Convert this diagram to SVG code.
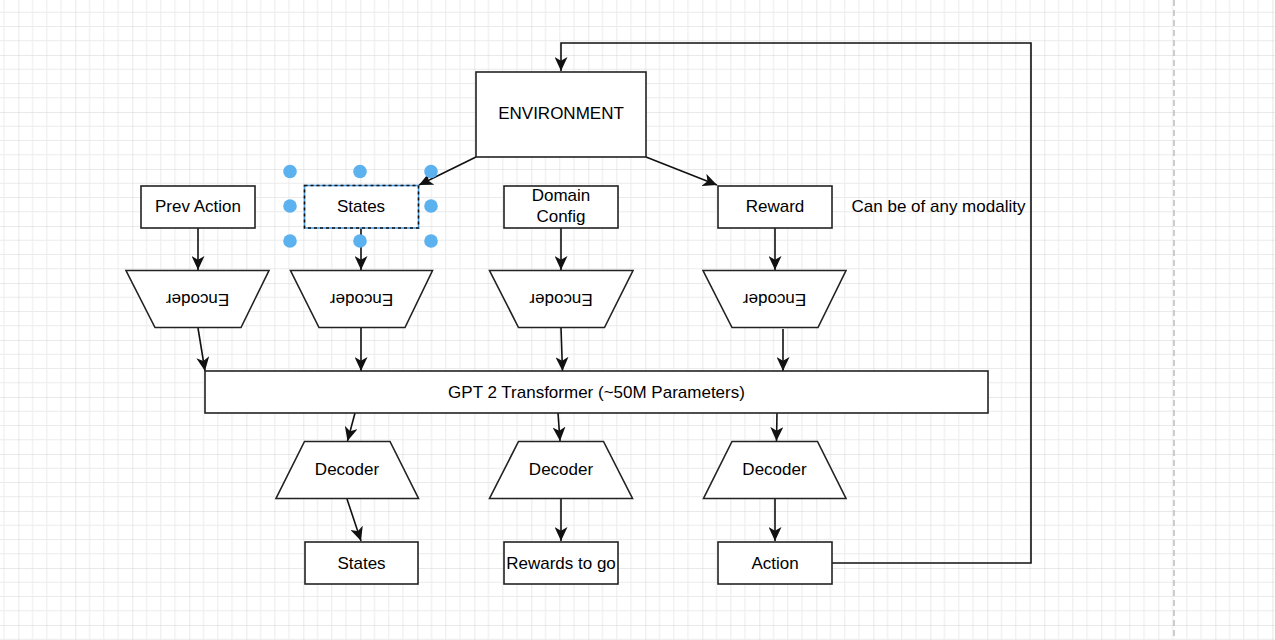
<svg xmlns="http://www.w3.org/2000/svg" width="1275" height="640" viewBox="0 0 1275 640">
<style>
.box{fill:#fff;stroke:#222;stroke-width:1.6}
.t{font-family:"Liberation Sans",Arial,sans-serif;font-size:17px;fill:#000;text-anchor:middle}
.c{fill:none;stroke:#111;stroke-width:1.6}
.h{fill:#5cb1ef}
</style>
<defs>
<pattern id="grid" width="57" height="57" patternUnits="userSpaceOnUse" x="18.3" y="-2">
<path d="M14.25 0V57M28.5 0V57M42.75 0V57M0 14.25H57M0 28.5H57M0 42.75H57" stroke="#ebebeb" stroke-width="1"/>
<path d="M0 0V57M0 0H57" stroke="#d4d4d4" stroke-width="1"/>
</pattern>
<marker id="arr" markerUnits="userSpaceOnUse" markerWidth="15" markerHeight="13" refX="14" refY="6.5" orient="auto">
<path d="M0,0 L14,6.5 L0,13 L3.8,6.5 z" fill="#111"/>
</marker>
</defs>
<rect width="1275" height="640" fill="#fff"/>
<rect width="1275" height="640" fill="url(#grid)"/>
<line x1="1174" y1="0" x2="1174" y2="640" stroke="#bdbdbd" stroke-width="1.5" stroke-dasharray="6 4"/>

<g id="connectors">
<path class="c" d="M832 563 H1031 V43 H561 V71" marker-end="url(#arr)"/>
<path class="c" d="M476 157 L419 185" marker-end="url(#arr)"/>
<path class="c" d="M646 157 L717 185" marker-end="url(#arr)"/>
<path class="c" d="M198 228 V270" marker-end="url(#arr)"/>
<path class="c" d="M361 228 V270" marker-end="url(#arr)"/>
<path class="c" d="M561 228 V270" marker-end="url(#arr)"/>
<path class="c" d="M775 228 V270" marker-end="url(#arr)"/>
<path class="c" d="M198 328 L205 371" marker-end="url(#arr)"/>
<path class="c" d="M361 328 V371" marker-end="url(#arr)"/>
<path class="c" d="M561 328 L562.5 371" marker-end="url(#arr)"/>
<path class="c" d="M783 329 V371" marker-end="url(#arr)"/>
<path class="c" d="M355 413 L347.5 441" marker-end="url(#arr)"/>
<path class="c" d="M558 413 L560 441" marker-end="url(#arr)"/>
<path class="c" d="M777 413 L776.5 441" marker-end="url(#arr)"/>
<path class="c" d="M347 499 L361 541" marker-end="url(#arr)"/>
<path class="c" d="M561 499 V541" marker-end="url(#arr)"/>
<path class="c" d="M775 499 V541" marker-end="url(#arr)"/>
</g>

<g id="environment">
<rect class="box" x="476" y="72" width="170" height="85"/>
<text class="t" x="561" y="118.5">ENVIRONMENT</text>
</g>

<g id="prev-action">
<rect class="box" x="141" y="186" width="114" height="42"/>
<text class="t" x="198" y="212.3">Prev Action</text>
</g>

<g id="states-in">
<rect x="304.5" y="185.5" width="114" height="42.5" fill="#fff" stroke="#4a9fe8" stroke-width="1.6"/>
<rect x="304.5" y="185.5" width="114" height="42.5" fill="none" stroke="#111" stroke-width="1.6" stroke-dasharray="3 3"/>
<text class="t" x="361" y="211.5">States</text>
</g>

<g id="domain-config">
<rect class="box" x="504" y="186" width="114" height="42"/>
<text class="t" x="561" y="200.5">Domain</text>
<text class="t" x="561" y="221.5">Config</text>
</g>

<g id="reward">
<rect class="box" x="718" y="186" width="114" height="42"/>
<text class="t" x="775" y="211.5">Reward</text>
</g>

<g id="modality-note">
<text class="t" x="938.5" y="211.5">Can be of any modality</text>
</g>

<g id="encoder-1">
<path class="box" d="M126 270.5 H269 L241 327.5 H155 Z"/>
<text class="t" transform="rotate(180 197.5 300)" x="197.5" y="306">Encoder</text>
</g>
<g id="encoder-2">
<path class="box" d="M290.5 270.5 H432.5 L405 327.5 H319 Z"/>
<text class="t" transform="rotate(180 361.5 300)" x="361.5" y="306">Encoder</text>
</g>
<g id="encoder-3">
<path class="box" d="M489.5 270.5 H633 L604.5 327.5 H518.5 Z"/>
<text class="t" transform="rotate(180 561 300)" x="561" y="306">Encoder</text>
</g>
<g id="encoder-4">
<path class="box" d="M703 270.5 H846 L818 327.5 H732 Z"/>
<text class="t" transform="rotate(180 774.5 300)" x="774.5" y="306">Encoder</text>
</g>

<g id="gpt2">
<rect class="box" x="205" y="371" width="783" height="42"/>
<text class="t" x="596.5" y="397.5">GPT 2 Transformer (~50M Parameters)</text>
</g>

<g id="decoder-1">
<path class="box" d="M304.5 441.5 H390 L418.5 498.5 H276 Z"/>
<text class="t" x="347" y="475">Decoder</text>
</g>
<g id="decoder-2">
<path class="box" d="M518.5 441.5 H603.5 L632.5 498.5 H489.5 Z"/>
<text class="t" x="561" y="475">Decoder</text>
</g>
<g id="decoder-3">
<path class="box" d="M732 441.5 H817.5 L846 498.5 H703.5 Z"/>
<text class="t" x="774.5" y="475">Decoder</text>
</g>

<g id="states-out">
<rect class="box" x="305" y="542" width="113" height="42"/>
<text class="t" x="361.5" y="568.5">States</text>
</g>
<g id="rewards-to-go">
<rect class="box" x="504" y="542" width="114" height="42"/>
<text class="t" x="561" y="568.5">Rewards to go</text>
</g>
<g id="action">
<rect class="box" x="718" y="542" width="114" height="42"/>
<text class="t" x="775" y="568.5">Action</text>
</g>

<g id="selection-handles">
<circle class="h" cx="290" cy="171.5" r="6.8"/>
<circle class="h" cx="360" cy="171.5" r="6.8"/>
<circle class="h" cx="431" cy="171.5" r="6.8"/>
<circle class="h" cx="290" cy="206" r="6.8"/>
<circle class="h" cx="431" cy="206" r="6.8"/>
<circle class="h" cx="290" cy="241" r="6.8"/>
<circle class="h" cx="360" cy="241" r="6.8"/>
<circle class="h" cx="431" cy="241" r="6.8"/>
</g>
</svg>
